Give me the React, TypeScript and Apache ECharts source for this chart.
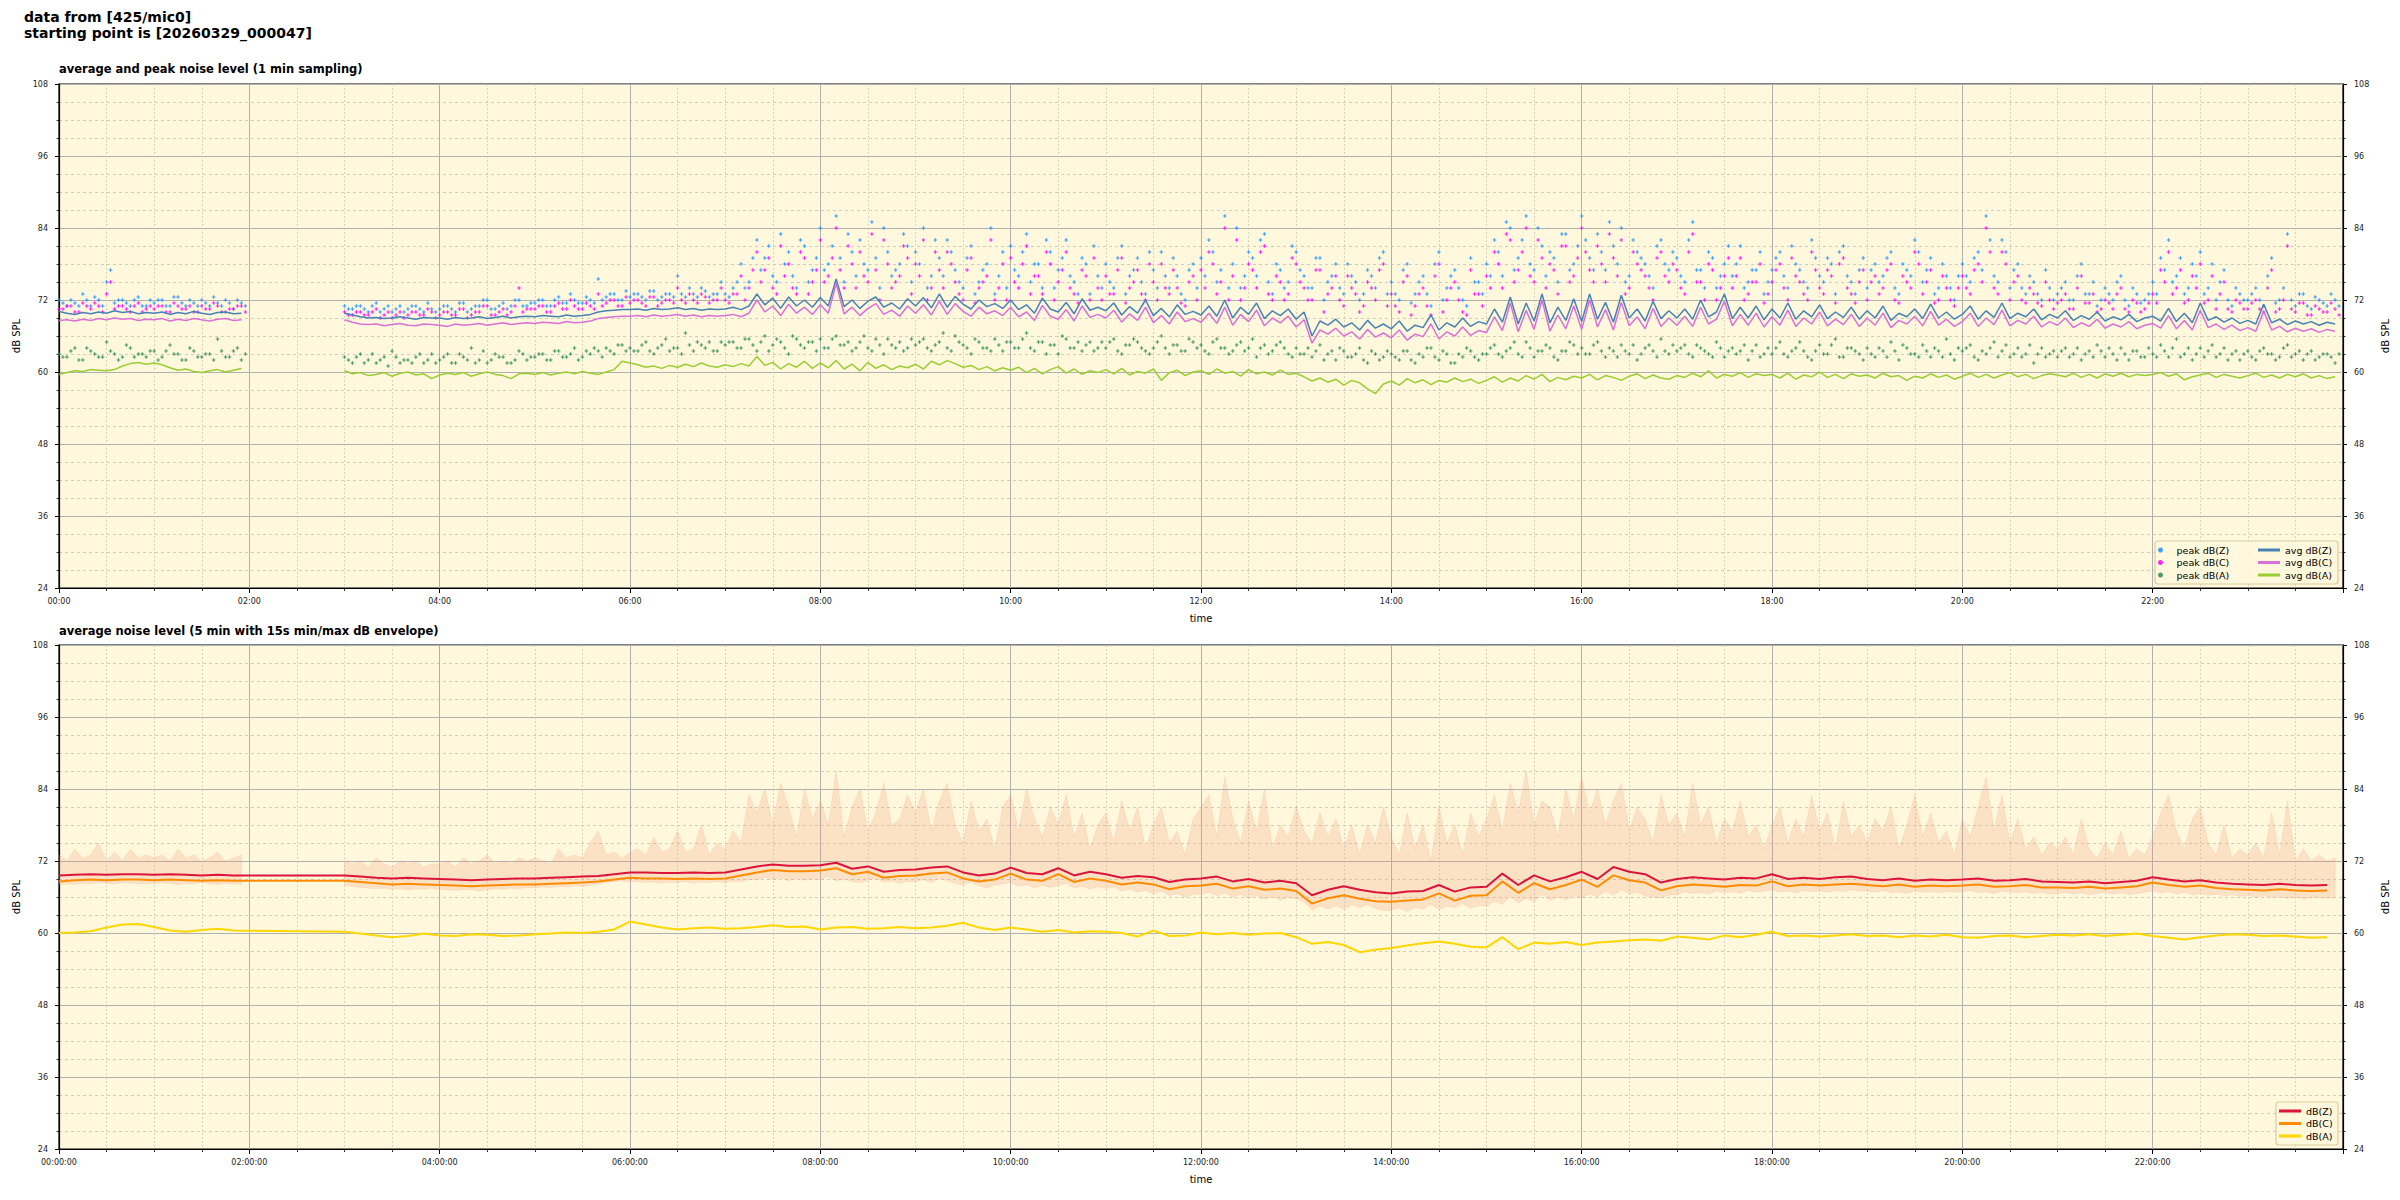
import React, { useEffect, useRef } from "react";
import * as echarts from "echarts";

// ---------- tick labels ----------
const xTickLabelsTop = ["00:00", "02:00", "04:00", "06:00", "08:00", "10:00", "12:00", "14:00", "16:00", "18:00", "20:00", "22:00"];
const xTickLabelsBottom = ["00:00:00", "02:00:00", "04:00:00", "06:00:00", "08:00:00", "10:00:00", "12:00:00", "14:00:00", "16:00:00", "18:00:00", "20:00:00", "22:00:00"];
const yTickLabels = ["24", "36", "48", "60", "72", "84", "96", "108"];

// ---------- top panel: 5-min samples (minute = index*5), null = no data ----------
const avgZ = [
  70.1, 69.8, 69.6, 69.9, 69.7, 70.0, 69.8, 70.2, 69.9, 70.1, 69.7, 69.9,
  69.8, 70.0, 69.6, 69.9, 69.7, 70.1, 69.8, 69.6, 69.9, 70.0, 69.7, 69.8,
  null, null, null, null, null, null, null, null, null, null, null, null,
  69.8, 69.5, 69.2, 69.0, 69.1, 68.9, 69.0, 69.2, 69.0, 68.8, 69.1, 69.0,
  69.0, 68.8, 69.1, 68.9, 69.0, 69.2, 68.9, 69.1, 69.3, 69.0, 69.2, 69.3,
  69.2, 69.4, 69.3, 69.2, 69.5, 69.3, 69.4, 69.6, 70.0, 70.2, 70.3, 70.4,
  70.4, 70.5, 70.3, 70.6, 70.4, 70.5, 70.7, 70.4, 70.6, 70.3, 70.5, 70.4,
  70.5, 70.8, 70.4, 71.0, 73.0, 71.2, 72.3, 70.6, 72.5, 71.0, 72.0, 70.8,
  72.4, 71.0, 75.5, 70.9, 72.0, 70.6, 71.8, 72.5, 70.8, 71.5, 70.5, 72.2,
  71.0, 72.4, 70.7, 73.0, 70.8, 72.6, 71.3, 70.5, 72.0, 70.9, 71.4, 70.6,
  72.0, 70.4, 71.2, 69.8, 72.3, 70.5, 70.0, 71.6, 69.7, 72.2, 70.3, 70.8,
  70.2, 71.5, 69.5, 70.9, 69.8, 72.0, 69.4, 70.6, 69.2, 71.2, 69.6, 70.1,
  69.5, 71.0, 69.3, 72.0, 69.0, 70.8, 69.6, 71.5, 68.9, 70.2, 69.4, 70.5,
  68.8, 70.0, 66.0, 68.5, 67.8, 68.8, 67.5, 68.2, 67.0, 68.6, 67.3, 68.0,
  67.2, 68.5, 66.8, 67.8, 67.4, 69.5, 67.0, 68.2, 67.5, 69.0, 67.6, 68.4,
  68.0, 70.5, 68.3, 72.5, 68.0, 71.5, 68.5, 73.0, 68.2, 70.8, 68.6, 72.2,
  68.4, 73.0, 68.8, 71.6, 68.3, 72.8, 69.0, 70.5, 68.5, 71.8, 68.9, 70.2,
  69.0, 70.5, 68.8, 72.0, 69.2, 70.0, 73.0, 68.9, 70.8, 69.0, 71.0, 68.7,
  70.5, 69.0, 71.5, 68.8, 70.2, 69.2, 71.2, 68.9, 70.0, 69.1, 70.8, 68.8,
  70.2, 69.0, 71.0, 68.6, 69.8, 69.2, 70.5, 68.9, 71.3, 69.0, 70.0, 68.8,
  69.6, 71.0, 68.8, 70.2, 69.1, 71.5, 68.9, 69.8, 69.2, 70.5, 68.7, 69.6,
  69.0, 70.2, 68.6, 69.4, 68.8, 70.0, 68.5, 69.2, 68.7, 69.6, 68.4, 69.0,
  69.3, 68.5, 70.6, 68.4, 69.8, 68.2, 71.5, 68.6, 69.2, 68.3, 69.0, 68.1,
  68.6, 68.0, 71.3, 68.2, 68.8, 67.9, 68.5, 68.0, 68.4, 67.8, 68.3, 68.0,
];
const avgC = [
  68.6, 68.7, 68.5, 68.8, 68.6, 68.9, 68.7, 69.0, 68.8, 68.9, 68.6, 68.8,
  68.7, 68.9, 68.5, 68.8, 68.6, 68.9, 68.7, 68.5, 68.8, 68.9, 68.6, 68.7,
  null, null, null, null, null, null, null, null, null, null, null, null,
  68.7, 68.3, 68.0, 67.9, 68.0, 67.7, 67.9, 68.1, 67.8, 67.7, 68.0, 67.9,
  67.8, 67.6, 68.0, 67.8, 67.9, 68.1, 67.8, 68.0, 68.2, 67.9, 68.1, 68.2,
  68.1, 68.3, 68.2, 68.1, 68.4, 68.2, 68.3, 68.5, 68.9, 69.1, 69.2, 69.3,
  69.3, 69.4, 69.2, 69.5, 69.3, 69.4, 69.6, 69.3, 69.5, 69.2, 69.4, 69.3,
  69.4, 69.6, 69.2, 69.8, 72.0, 70.0, 71.0, 69.4, 71.3, 69.8, 70.8, 69.6,
  71.2, 69.8, 74.8, 69.7, 70.8, 69.4, 70.6, 71.4, 69.6, 70.3, 69.3, 71.0,
  69.8, 71.2, 69.5, 71.8, 69.6, 71.4, 70.1, 69.3, 70.8, 69.7, 70.2, 69.4,
  70.8, 69.2, 70.0, 68.6, 71.1, 69.3, 68.8, 70.4, 68.5, 71.0, 69.1, 69.6,
  69.0, 70.3, 68.3, 69.7, 68.6, 70.8, 68.2, 69.4, 68.0, 70.0, 68.4, 68.9,
  68.3, 69.8, 68.1, 70.8, 67.8, 69.6, 68.4, 70.3, 67.7, 69.0, 68.2, 69.3,
  67.5, 68.7, 64.8, 67.0, 66.3, 67.3, 66.0, 66.7, 65.5, 67.1, 65.8, 66.5,
  65.7, 67.0, 65.3, 66.3, 65.9, 68.0, 65.5, 66.7, 66.0, 67.5, 66.1, 66.9,
  66.6, 69.2, 66.9, 71.5, 66.7, 70.3, 67.1, 72.0, 66.8, 69.5, 67.2, 71.0,
  67.1, 72.0, 67.5, 70.4, 67.0, 71.6, 67.7, 69.2, 67.2, 70.6, 67.6, 69.0,
  67.8, 69.3, 67.6, 70.8, 68.0, 68.8, 71.8, 67.7, 69.6, 67.8, 69.8, 67.5,
  69.2, 67.8, 70.3, 67.6, 69.0, 68.0, 70.0, 67.7, 68.8, 67.9, 69.6, 67.6,
  69.0, 67.8, 69.8, 67.4, 68.6, 68.0, 69.3, 67.7, 70.1, 67.8, 68.8, 67.6,
  68.4, 69.8, 67.6, 69.0, 67.9, 70.3, 67.7, 68.6, 68.0, 69.3, 67.5, 68.4,
  67.8, 69.0, 67.4, 68.2, 67.6, 68.8, 67.3, 68.0, 67.5, 68.4, 67.2, 67.8,
  68.1, 67.3, 69.4, 67.2, 68.6, 67.0, 70.3, 67.4, 68.0, 67.1, 67.8, 66.9,
  67.4, 66.8, 70.1, 67.0, 67.6, 66.7, 67.3, 66.8, 67.2, 66.6, 67.1, 66.8,
];
const avgA = [
  59.6, 59.9, 60.2, 60.1, 60.4, 60.3, 60.2, 60.4, 61.0, 61.4, 61.6, 61.3,
  61.5, 61.2, 60.7, 60.3, 60.5, 60.1, 59.9, 60.2, 60.4, 60.0, 60.3, 60.6,
  null, null, null, null, null, null, null, null, null, null, null, null,
  60.2, 59.7, 59.9, 59.4, 59.6, 59.9, 59.3, 59.8, 60.0, 59.5, 59.7, 58.9,
  59.5, 59.8, 59.6, 59.9, 59.3, 59.7, 60.0, 59.6, 59.4, 58.9, 59.7, 59.8,
  59.6, 59.9, 59.5, 59.8, 60.0, 59.7, 60.1, 59.8, 59.6, 60.0, 60.4, 61.8,
  61.5, 61.2, 60.8, 61.0, 60.6, 61.1, 60.8, 61.3, 60.9, 61.5, 61.0, 60.8,
  61.2, 60.9, 61.4, 61.0, 62.6, 61.1, 61.6, 60.5, 61.4, 60.8, 61.8, 60.6,
  61.5, 60.7, 61.9, 60.5, 61.3, 60.2, 61.6, 60.6, 61.2, 60.4, 61.0, 60.7,
  61.3, 60.5, 61.8, 61.2, 61.9, 61.4, 60.8, 61.1, 60.4, 60.9, 60.2, 60.7,
  60.3, 60.8, 59.9, 60.6, 59.7, 60.4, 60.9, 59.8, 60.5, 59.6, 60.2, 59.9,
  60.4, 59.7, 60.6, 59.5, 60.1, 59.8, 60.5, 58.6, 59.9, 60.3, 59.4, 60.0,
  60.2, 59.6, 60.5, 59.8, 60.1, 59.3, 60.4, 59.7, 60.0, 59.5, 60.3, 59.6,
  59.8, 59.2, 58.5, 59.0, 58.3, 58.8, 57.8, 58.6, 58.2, 57.2, 56.4, 58.0,
  58.5, 57.8, 58.9, 58.2, 58.7, 57.9, 58.6, 58.3, 59.0, 58.4, 58.8, 58.1,
  58.6, 59.2, 58.3, 59.0, 58.5, 59.4, 58.8, 59.6, 58.4, 59.1, 58.7, 59.3,
  59.0, 59.6, 58.7, 59.4, 59.1, 58.6, 59.3, 59.7, 58.9, 59.5, 59.0, 58.8,
  59.4, 59.1, 59.8, 59.2, 60.2, 59.0, 59.6, 59.3, 59.9, 59.1, 59.7, 59.4,
  59.6, 59.0, 59.8, 58.8, 59.5, 59.2, 60.0, 59.1, 59.6, 58.9, 59.7, 59.3,
  59.5, 59.0, 59.8, 59.2, 59.4, 58.6, 59.3, 59.0, 59.7, 59.1, 59.5, 58.8,
  59.3, 59.8, 59.1, 59.6, 59.0, 59.5, 59.9, 59.2, 59.6, 58.9, 59.4, 59.7,
  59.5, 59.2, 59.8, 59.1, 59.6, 59.0, 59.7, 59.3, 59.8, 59.2, 59.6, 59.4,
  59.6, 59.9, 59.3, 59.7, 58.7, 59.2, 59.5, 59.8, 59.1, 59.6, 59.3, 59.0,
  59.4, 59.8, 59.1, 59.5, 59.0, 59.6, 59.2, 59.7, 59.0, 59.4, 58.9, 59.2,
];
// peak samples on the 5-min marks
const peakZ = [
  72, 71, 71.5, 73, 71, 72, 75, 71.5, 72, 71, 72.5, 71,
  71.5, 72, 71, 72.5, 71, 71.5, 72, 71, 71.5, 72, 70.5, 71.5,
  null, null, null, null, null, null, null, null, null, null, null, null,
  71, 70.5, 71, 70, 71.5, 70.5, 70, 71, 70.5, 71, 70, 70.5,
  70.5, 71, 70, 71.5, 70.5, 71, 72, 70.5, 71.5, 71, 72, 71,
  71.5, 72, 71, 72.5, 71.5, 72, 71.5, 72, 75.5, 72.5, 73, 72,
  72.5, 73, 72, 73.5, 72.5, 73, 76, 72.5, 73, 74, 72.5, 73,
  73, 74, 78, 75, 82, 79, 76, 83, 80, 74, 81, 77,
  84, 78, 86, 75, 80, 82, 77, 79, 84, 76, 78, 81,
  80, 84, 76, 79, 82, 77, 74, 81, 75, 78, 73, 80,
  81, 76, 83, 78, 74, 80, 77, 82, 75, 79, 73, 76,
  78, 74, 81, 76, 79, 73, 77, 80, 74, 76, 72, 78,
  79, 82, 75, 86, 78, 74, 80, 76, 83, 73, 77, 75,
  80, 76, 74, 79, 75, 78, 73, 76, 72, 77, 74, 80,
  75, 72, 78, 73, 76, 71, 80, 74, 77, 72, 79, 75,
  78, 82, 76, 84, 79, 86, 77, 81, 80, 75, 83, 78,
  86, 79, 83, 77, 81, 84, 76, 80, 78, 74, 82, 77,
  79, 75, 85, 77, 80, 74, 78, 76, 81, 75, 77, 73,
  77, 80, 74, 78, 75, 82, 76, 79, 73, 81, 75, 77,
  74, 78, 76, 80, 73, 77, 82, 75, 79, 74, 76, 72,
  78, 75, 80, 86, 76, 82, 74, 78, 73, 75, 72, 74,
  73, 75, 72, 78, 73, 71, 74, 72, 76, 71, 73, 72,
  75, 79, 82, 76, 73, 78, 80, 74, 72, 77, 71, 73,
  72, 74, 71, 79, 72, 83, 71, 73, 70.5, 72, 71, 72,
];
// peak samples half-way between the 5-min marks (minute = index*5 + 2.5)
const peakZMid = [
  71.5, 72, 71, 72, 72.5, 71, 77, 72, 71.5, 72, 71, 72,
  72, 71, 72.5, 71.5, 72, 71, 71.5, 72.5, 71, 71.5, 72, 71,
  null, null, null, null, null, null, null, null, null, null, null, null,
  70.5, 71, 70.5, 71, 70, 71, 70.5, 70, 71, 70.5, 71.5, 70,
  71, 70.5, 71.5, 70, 71, 72, 70.5, 71, 70.5, 72, 71, 71.5,
  72, 71, 72, 71.5, 73, 71.5, 72.5, 71.5, 72, 73, 72, 73.5,
  73, 72.5, 73.5, 72, 73, 72.5, 73, 74, 72.5, 73.5, 73, 75,
  72.5, 75, 74, 79, 77, 81, 75, 78, 76, 82, 75, 79,
  77, 81, 79, 83, 76, 78, 85, 74, 80, 77, 83, 75,
  78, 74, 82, 76, 80, 75, 79, 73, 77, 84, 76, 74,
  77, 80, 75, 78, 82, 74, 79, 76, 73, 78, 81, 74,
  75, 79, 73, 77, 75, 80, 74, 76, 79, 73, 77, 74,
  76, 80, 77, 74, 84, 76, 79, 82, 75, 78, 74, 81,
  77, 74, 79, 72, 76, 74, 78, 75, 73, 76, 79, 73,
  73, 77, 71.5, 75, 73, 78, 72, 76, 74, 71, 75, 73,
  76, 80, 85, 77, 82, 78, 84, 76, 79, 83, 77, 81,
  82, 77, 80, 85, 78, 75, 82, 79, 76, 81, 78, 80,
  76, 82, 77, 74, 79, 76, 81, 78, 74, 77, 80, 75,
  79, 76, 81, 77, 74, 79, 75, 78, 80, 76, 73, 79,
  77, 75, 79, 74, 78, 76, 80, 77, 73, 78, 74, 76,
  76, 79, 77, 82, 75, 80, 77, 74, 76, 73, 77, 72,
  74, 72, 76, 73, 75, 72, 73, 75, 72, 74, 71.5, 73,
  73, 77, 75, 79, 74, 76, 73, 78, 75, 72, 74, 72,
  73, 72, 76, 71.5, 74, 72, 73, 71, 72.5, 71.5, 73, 71,
];
const peakC = [
  70.5, 71, 70, 71.5, 70.5, 71, 73, 70.5, 71, 70, 71.5, 70.5,
  70.5, 71, 70, 71, 70.5, 70, 71, 70.5, 71, 70, 70.5, 71,
  null, null, null, null, null, null, null, null, null, null, null, null,
  70, 69.5, 70, 69.5, 70.5, 69.5, 69, 70, 69.5, 70, 69.5, 70,
  69.5, 70, 69.5, 70.5, 69.5, 70, 71, 69.5, 70.5, 70, 74, 70.5,
  70.5, 71, 70, 71.5, 70.5, 71, 70.5, 71, 73, 71.5, 72, 71,
  71.5, 72, 71, 72.5, 71.5, 72, 74, 71.5, 72, 73, 71.5, 72,
  72, 73, 76, 74, 80, 77, 74, 81, 78, 73, 79, 75,
  82, 76, 84, 74, 78, 80, 75, 77, 82, 74, 76, 79,
  78, 82, 74, 77, 80, 75, 72, 79, 74, 76, 72, 78,
  79, 74, 81, 76, 73, 78, 75, 80, 73, 77, 72, 74,
  76, 73, 79, 74, 77, 72, 75, 78, 73, 74, 71, 76,
  77, 80, 73, 84, 76, 72, 78, 74, 81, 72, 75, 73,
  78, 74, 72, 77, 73, 76, 71, 74, 70, 75, 72, 78,
  73, 70, 76, 71, 74, 69.5, 78, 72, 75, 70, 77, 73,
  76, 80, 74, 82, 77, 84, 75, 79, 78, 73, 81, 76,
  84, 77, 81, 75, 79, 82, 74, 78, 76, 72, 80, 75,
  77, 73, 83, 75, 78, 72, 76, 74, 79, 73, 75, 71.5,
  75, 78, 72, 76, 73, 80, 74, 77, 71.5, 79, 73, 75,
  72, 76, 74, 78, 71.5, 75, 80, 73, 77, 72, 74, 71,
  76, 73, 78, 84, 74, 80, 72, 76, 71.5, 73, 71, 72,
  71.5, 73, 70.5, 76, 71.5, 70, 72, 70.5, 74, 70, 71.5, 70.5,
  73, 77, 80, 74, 71.5, 76, 78, 72, 70.5, 75, 70, 71.5,
  70.5, 72, 70, 77, 70.5, 81, 70, 71.5, 69.5, 70.5, 70, 70.5,
];
const peakCMid = [
  70.5, 71, 70, 71, 71.5, 70, 75, 71, 70.5, 71, 70, 71,
  71, 70, 71.5, 70.5, 71, 70, 70.5, 71.5, 70, 70.5, 71, 70,
  null, null, null, null, null, null, null, null, null, null, null, null,
  69.5, 70, 69.5, 70, 69, 70, 69.5, 69, 70, 69.5, 70.5, 69,
  70, 69.5, 70.5, 69, 70, 71, 69.5, 70, 69.5, 71, 70, 70.5,
  71, 70, 71, 70.5, 72, 70.5, 71.5, 70.5, 71, 72, 71, 72.5,
  72, 71.5, 72.5, 71, 72, 71.5, 72, 73, 71.5, 72.5, 72, 74,
  71.5, 73, 72, 77, 75, 79, 73, 76, 74, 80, 73, 77,
  75, 79, 77, 81, 74, 76, 83, 72, 78, 75, 81, 73,
  76, 72, 80, 74, 78, 73, 77, 71.5, 75, 82, 74, 72,
  75, 78, 73, 76, 80, 72, 77, 74, 71.5, 76, 79, 72,
  73, 77, 71.5, 75, 73, 78, 72, 74, 77, 71.5, 75, 72,
  74, 78, 75, 72, 82, 74, 77, 80, 73, 76, 72, 79,
  75, 72, 77, 70, 74, 72, 76, 73, 71, 74, 77, 71,
  71, 75, 69.5, 73, 71, 76, 70, 74, 72, 69.5, 73, 71,
  74, 78, 83, 75, 80, 76, 82, 74, 77, 81, 75, 79,
  80, 75, 78, 83, 76, 73, 80, 77, 74, 79, 76, 78,
  74, 80, 75, 72, 77, 74, 79, 76, 72, 75, 78, 73,
  77, 74, 79, 75, 72, 77, 73, 76, 78, 74, 71.5, 77,
  75, 73, 77, 72, 76, 74, 78, 75, 71.5, 76, 72, 74,
  74, 77, 75, 80, 73, 78, 75, 72, 74, 71.5, 75, 70.5,
  72, 70.5, 74, 71.5, 73, 70.5, 71.5, 73, 70.5, 72, 70, 71.5,
  71.5, 75, 73, 77, 72, 74, 71.5, 76, 73, 70.5, 72, 70.5,
  71.5, 70.5, 74, 70, 72, 70.5, 71.5, 69.5, 71, 70, 71.5, 69.5,
];
const peakA = [
  63, 62.5, 64, 62, 63.5, 62.5, 65, 63, 62.5, 64, 63, 62.5,
  63.5, 62.5, 64.5, 63, 62, 63.5, 62.5, 63, 65.5, 62.5, 63.5, 62,
  null, null, null, null, null, null, null, null, null, null, null, null,
  62.5, 61.5, 63, 62, 61.5, 62.5, 63.5, 61.5, 62, 62.5, 61.5, 63,
  62, 63, 61.5, 62.5, 64, 62, 61.5, 63, 62.5, 61.5, 63.5, 62,
  62.5, 63, 62, 63.5, 62.5, 64, 62.5, 63, 63.5, 64, 63, 64.5,
  64, 63.5, 65, 63, 64.5, 63.5, 64, 66.5, 63.5, 64.5, 65, 63.5,
  64.5, 65, 64, 65.5, 63.5, 66, 64.5, 65, 63, 65.5, 64, 65,
  65.5, 64, 66, 64.5, 63.5, 65, 64, 65.5, 63, 64.5, 65, 64,
  64.5, 65.5, 63.5, 65, 64, 66, 64.5, 63, 65, 64, 65.5, 63.5,
  65, 64, 66.5, 63.5, 65, 64.5, 63, 65.5, 64, 63.5, 65, 64,
  64, 65.5, 63, 64.5, 65, 63.5, 64, 66, 63, 64.5, 63.5, 65,
  64.5, 63, 65.5, 64, 63.5, 65, 64, 62.5, 64.5, 63.5, 65, 63,
  64, 63, 62.5, 64.5, 63, 62, 63.5, 62.5, 64, 61.5, 63, 62.5,
  63, 62, 63.5, 61.5, 62.5, 64, 62, 63, 61.5, 62.5, 63.5, 62,
  63, 64.5, 62.5, 64, 63, 65, 62.5, 63.5, 64, 62, 63.5, 64.5,
  64, 63, 65, 62.5, 63.5, 64.5, 63, 62, 64, 63.5, 65.5, 63,
  63.5, 64.5, 62.5, 64, 63, 65, 62.5, 64, 63.5, 62, 64.5, 63,
  63, 65, 62.5, 64, 63.5, 62, 64.5, 63, 65.5, 62.5, 64, 63,
  64, 62.5, 63.5, 65, 62, 64, 63, 64.5, 62.5, 63.5, 65.5, 62,
  63.5, 64.5, 62, 63, 65, 63.5, 62.5, 64, 63, 61.5, 64, 63,
  62.5, 64, 63, 62, 63.5, 64.5, 62.5, 63, 64, 62, 63.5, 62.5,
  63, 64.5, 62.5, 65.5, 63, 62, 64, 63.5, 62.5, 64, 63, 62,
  63.5, 62, 64, 63, 62.5, 64.5, 63, 62, 63.5, 62.5, 63, 61.5,
];
const peakAMid = [
  62.5, 63.5, 62, 64, 63, 62.5, 63.5, 62, 64.5, 62.5, 63, 63.5,
  62, 63.5, 63, 62, 64, 62.5, 63, 62, 63.5, 62.5, 64, 63,
  null, null, null, null, null, null, null, null, null, null, null, null,
  62, 62.5, 61.5, 63, 62, 61, 62.5, 62, 61.5, 63, 62, 61.5,
  62.5, 61.5, 63, 62, 61.5, 63.5, 62, 62.5, 61.5, 62, 63, 62.5,
  63, 62, 63.5, 62.5, 63, 62, 63.5, 64, 62.5, 63.5, 64.5, 63.5,
  63.5, 64.5, 63.5, 64, 65.5, 64, 63, 64.5, 65, 64, 63.5, 65,
  65, 64, 65.5, 64.5, 65, 63.5, 65.5, 64, 66, 64.5, 65, 63.5,
  64, 65.5, 64.5, 65, 64, 66, 63.5, 64.5, 65.5, 64, 63.5, 65.5,
  65, 64, 64.5, 66.5, 63.5, 65, 64, 65.5, 64, 63.5, 64.5, 65,
  64, 65.5, 64, 65, 63, 64.5, 66, 64, 65, 64.5, 63.5, 65,
  65, 63.5, 64.5, 65.5, 64, 63, 65, 64, 64.5, 63.5, 65.5, 64,
  63.5, 65, 64, 63, 64.5, 63.5, 65.5, 64, 63, 64.5, 64, 62.5,
  63, 64, 63.5, 62, 63.5, 64, 62.5, 63, 62, 63.5, 62, 63.5,
  62.5, 63.5, 62, 63, 64, 62.5, 63.5, 61.5, 63, 64, 62.5, 63,
  64, 63, 63.5, 65, 62.5, 64, 63.5, 64.5, 62.5, 63.5, 65, 63,
  63, 64.5, 63.5, 64, 62.5, 63.5, 64.5, 63, 64.5, 62.5, 63.5, 64.5,
  64, 63, 64.5, 63.5, 62.5, 64, 63.5, 63, 64.5, 63.5, 62.5, 64,
  64, 63, 63.5, 65, 62.5, 63.5, 63, 64.5, 62.5, 64, 63.5, 62,
  63, 64, 62.5, 63.5, 64.5, 63, 62.5, 63.5, 64, 62.5, 63, 64,
  64, 62.5, 63.5, 64, 62.5, 64.5, 63, 62.5, 64.5, 63, 62.5, 63.5,
  63.5, 62.5, 64, 63, 62.5, 63.5, 64, 62, 63, 63.5, 62.5, 64,
  62.5, 63.5, 64, 62.5, 64, 63, 62.5, 64.5, 63, 62, 63.5, 63,
  62.5, 63.5, 63, 62, 64, 62.5, 63.5, 63, 62, 63, 62.5, 63,
];

// ---------- bottom panel: 10-min averages (minute = index*10) ----------
const lvlZ = [
  69.6, 69.7, 69.8, 69.7, 69.8, 69.8, 69.7, 69.8, 69.7, 69.6, 69.7, 69.6,
  null, null, null, null, null, null,
  69.6, 69.4, 69.2, 69.1, 69.2, 69.1, 69.0, 68.9, 68.8, 68.9, 69.0, 69.1,
  69.1, 69.2, 69.3, 69.4, 69.5, 69.8, 70.1, 70.1, 70.0, 70.0, 70.1, 70.0,
  70.1, 70.6, 71.1, 71.4, 71.2, 71.2, 71.3, 71.7, 70.7, 71.1, 70.2, 70.5,
  70.6, 70.9, 71.1, 70.1, 69.6, 69.9, 70.9, 70.0, 69.8, 70.8, 69.6, 70.2,
  69.8, 69.2, 69.5, 69.3, 68.5, 68.9, 69.1, 69.4, 68.6, 69.0, 68.4, 68.7,
  68.3, 66.3, 67.2, 67.8, 67.2, 66.8, 66.6, 66.9, 67.0, 68.0, 66.9, 67.6,
  67.7, 69.9, 68.0, 69.6, 68.6, 69.3, 70.2, 69.0, 71.0, 70.2, 69.8, 68.4,
  69.0, 69.3, 69.1, 68.9, 69.2, 69.1, 69.8, 69.0, 69.2, 69.0, 69.3, 69.4,
  69.0, 68.8, 69.1, 68.7, 68.9, 68.8, 68.9, 69.1, 68.7, 68.8, 69.0, 68.6,
  68.5, 68.4, 68.6, 68.3, 68.5, 68.7, 69.3, 68.9, 68.6, 68.8, 68.4, 68.2,
  68.1, 68.0, 68.2, 68.0, 67.9, 68.0,
];
const lvlC = [
  68.6, 68.8, 68.9, 68.8, 68.9, 68.9, 68.8, 68.9, 68.8, 68.7, 68.8, 68.7,
  null, null, null, null, null, null,
  68.7, 68.5, 68.3, 68.1, 68.2, 68.1, 68.0, 67.9, 67.8, 67.9, 68.0, 68.1,
  68.1, 68.2, 68.3, 68.4, 68.6, 68.9, 69.2, 69.1, 69.1, 69.0, 69.1, 69.0,
  69.1, 69.6, 70.1, 70.5, 70.3, 70.3, 70.4, 70.8, 69.8, 70.2, 69.2, 69.5,
  69.6, 69.9, 70.1, 69.1, 68.6, 68.9, 69.9, 68.9, 68.7, 69.8, 68.5, 69.1,
  68.7, 68.1, 68.4, 68.1, 67.3, 67.8, 67.9, 68.2, 67.4, 67.8, 67.2, 67.4,
  67.0, 64.9, 65.8, 66.3, 65.7, 65.3, 65.2, 65.4, 65.6, 66.6, 65.4, 66.2,
  66.3, 68.6, 66.7, 68.3, 67.3, 68.0, 68.9, 67.7, 69.6, 68.8, 68.4, 67.1,
  67.8, 68.1, 67.9, 67.7, 68.0, 67.9, 68.6, 67.8, 68.1, 67.9, 68.1, 68.2,
  68.0, 67.8, 68.1, 67.7, 67.9, 67.8, 67.9, 68.1, 67.7, 67.8, 68.0, 67.6,
  67.6, 67.5, 67.7, 67.4, 67.6, 67.8, 68.4, 68.0, 67.7, 67.9, 67.5, 67.3,
  67.2, 67.1, 67.3, 67.1, 67.0, 67.1,
];
const lvlA = [
  60.0, 60.1, 60.3, 60.9, 61.4, 61.5, 61.0, 60.4, 60.2, 60.5, 60.7, 60.4,
  null, null, null, null, null, null,
  60.2, 59.9, 59.6, 59.3, 59.5, 59.9, 59.6, 59.5, 59.8, 59.7, 59.5, 59.6,
  59.8, 59.9, 60.1, 60.0, 60.2, 60.6, 61.9, 61.4, 60.9, 60.6, 60.8, 60.9,
  60.7, 60.8, 61.0, 61.3, 61.0, 61.1, 60.6, 60.9, 61.0, 60.7, 60.8, 61.0,
  60.8, 60.9, 61.2, 61.7, 60.9, 60.5, 60.9, 60.6, 60.2, 60.5, 60.1, 60.3,
  60.2, 60.0, 59.4, 60.4, 59.5, 59.6, 60.1, 59.8, 60.0, 59.7, 59.9, 60.0,
  59.3, 58.2, 58.5, 58.0, 56.8, 57.2, 57.5, 57.9, 58.3, 58.6, 58.2, 57.7,
  57.6, 59.3, 57.3, 58.4, 58.2, 58.5, 58.0, 58.4, 58.6, 58.8, 58.9, 58.7,
  59.4, 59.2, 58.9, 59.6, 59.3, 59.7, 60.2, 59.5, 59.6, 59.4, 59.6, 59.8,
  59.5, 59.6, 59.3, 59.6, 59.4, 59.7, 59.3, 59.2, 59.5, 59.6, 59.3, 59.5,
  59.7, 59.6, 59.8, 59.5, 59.7, 59.9, 59.5, 59.2, 58.9, 59.3, 59.6, 59.8,
  59.7, 59.5, 59.6, 59.4, 59.2, 59.3,
];
// 15 s min / max envelope, summarised per 5 min (minute = index*5)
const envMax = [
  73, 72, 74, 72.5, 73, 75, 72, 73.5, 72, 74, 72.5, 73,
  72.5, 73, 72, 74, 72.5, 73, 72, 72.5, 73.5, 72, 72.5, 73,
  null, null, null, null, null, null, null, null, null, null, null, null,
  72, 71.5, 72, 71, 72.5, 71.5, 71, 72, 71.5, 72, 71, 71.5,
  71.5, 72, 71, 72.5, 71.5, 72, 73, 71.5, 72, 71.5, 72.5, 72,
  72.5, 72, 71.5, 74, 72.5, 73, 72.5, 75, 77, 73, 73.5, 72.5,
  73.5, 74, 73, 76, 73.5, 74, 77, 73.5, 74, 78, 73, 75,
  74, 77, 75, 83, 80, 84, 78, 85, 81, 76, 84, 79,
  82, 78, 87, 76, 81, 84, 77, 80, 85, 78, 79, 83,
  80, 84, 77, 82, 85, 78, 75, 82, 77, 79, 74, 81,
  83, 77, 84, 79, 76, 81, 78, 83, 76, 80, 74, 78,
  80, 75, 82, 77, 81, 74, 78, 81, 75, 77, 73, 79,
  81, 83, 76, 86, 79, 75, 82, 77, 84, 74, 78, 76,
  81, 77, 75, 80, 76, 79, 74, 78, 73, 78, 75, 81,
  76, 73, 80, 74, 78, 72, 81, 75, 78, 73, 80, 76,
  79, 83, 77, 85, 80, 87, 78, 82, 81, 76, 84, 79,
  86, 80, 84, 78, 82, 85, 77, 81, 79, 75, 83, 78,
  80, 76, 85, 78, 81, 75, 79, 77, 82, 76, 78, 74,
  78, 81, 75, 79, 76, 83, 77, 80, 74, 82, 76, 78,
  75, 79, 77, 81, 74, 78, 83, 76, 80, 75, 77, 73,
  79, 76, 81, 86, 77, 83, 75, 79, 74, 76, 73, 75,
  74, 76, 73, 79, 74, 72.5, 75, 73, 77, 72.5, 74, 73,
  76, 80, 83, 77, 74, 79, 81, 75, 73, 78, 72.5, 74,
  73, 75, 72.5, 80, 73, 82, 72, 74, 72, 73, 72, 72.5,
];
const envMin = [
  68.0, 68.2, 68.1, 68.3, 68.2, 68.4, 68.3, 68.2, 68.4, 68.3, 68.2, 68.3,
  68.2, 68.4, 68.3, 68.1, 68.3, 68.2, 68.4, 68.2, 68.1, 68.3, 68.2, 68.1,
  null, null, null, null, null, null, null, null, null, null, null, null,
  68.0, 67.8, 67.6, 67.5, 67.4, 67.5, 67.3, 67.4, 67.2, 67.4, 67.3, 67.5,
  67.3, 67.2, 67.1, 67.3, 67.2, 67.0, 67.2, 67.4, 67.3, 67.5, 67.4, 67.6,
  67.5, 67.7, 67.6, 67.8, 67.7, 67.9, 67.8, 68.0, 68.2, 68.4, 68.6, 68.7,
  68.5, 68.6, 68.4, 68.5, 68.3, 68.5, 68.4, 68.6, 68.3, 68.5, 68.4, 68.6,
  68.4, 68.7, 68.5, 69.0, 68.8, 69.3, 68.9, 69.2, 68.7, 69.1, 68.8, 69.0,
  68.9, 69.4, 68.7, 69.0, 68.6, 68.4, 68.8, 69.1, 68.5, 68.7, 68.3, 68.6,
  68.6, 68.9, 68.4, 69.1, 68.7, 68.3, 68.0, 68.5, 67.9, 67.5, 68.0, 68.2,
  68.4, 67.8, 68.1, 67.5, 68.0, 67.6, 67.9, 68.3, 67.5, 67.8, 67.3, 67.7,
  67.4, 67.7, 67.0, 67.3, 66.8, 67.1, 66.5, 67.0, 66.2, 66.6, 66.0, 66.5,
  66.4, 66.8, 66.2, 66.7, 66.0, 66.5, 65.8, 66.3, 65.6, 66.1, 65.5, 65.9,
  65.7, 65.2, 63.8, 64.5, 64.0, 64.6, 63.9, 64.7, 64.2, 64.8, 64.1, 63.7,
  63.8, 64.2, 63.6, 64.3, 64.0, 64.8, 63.9, 64.5, 64.2, 64.9, 64.1, 64.6,
  64.5, 65.3, 64.8, 66.1, 65.0, 65.8, 65.2, 66.5, 65.4, 66.0, 65.5, 66.2,
  65.8, 66.6, 66.0, 67.0, 66.3, 67.2, 66.5, 66.8, 66.2, 66.0, 65.9, 66.3,
  66.4, 66.9, 66.6, 66.8, 66.5, 67.0, 66.7, 66.9, 66.6, 67.1, 66.8, 67.0,
  67.2, 66.8, 67.0, 66.7, 67.1, 66.9, 67.0, 66.8, 67.1, 66.9, 67.2, 67.0,
  67.0, 66.8, 67.1, 66.7, 66.9, 66.6, 67.0, 66.8, 66.9, 66.7, 66.9, 66.8,
  66.9, 67.1, 66.7, 66.9, 66.6, 67.0, 66.8, 66.7, 66.9, 66.6, 66.8, 66.5,
  66.6, 66.8, 66.5, 66.7, 66.4, 66.6, 66.8, 66.5, 66.7, 66.4, 66.6, 66.8,
  67.0, 66.7, 66.9, 66.5, 66.8, 66.4, 66.6, 66.3, 66.5, 66.2, 66.4, 66.1,
  66.3, 66.0, 66.2, 65.9, 66.1, 65.8, 66.0, 65.7, 65.9, 66.0, 65.8, 65.9,
];

// ---------- helpers ----------
const FONT = "DejaVu Sans";
const pairs = (arr: (number | null)[], step: number) => arr.map((v, i) => [i * step, v]);
const points = (arr: (number | null)[], step: number, offset: number) =>
  arr.map((v, i) => (v == null ? null : [i * step + offset, v])).filter((p) => p !== null);

// contiguous runs of envelope samples (indices), one band polygon per run
function runsOf(arr: (number | null)[]) {
  const runs: [number, number][] = [];
  let start = -1;
  arr.forEach((v, i) => {
    if (v != null && start < 0) start = i;
    if ((v == null || i === arr.length - 1) && start >= 0) {
      runs.push([start, v == null ? i - 1 : i]);
      start = -1;
    }
  });
  return runs;
}

function xAxisDef(gridIndex: number, labels: string[]) {
  return {
    type: "value",
    gridIndex,
    min: 0,
    max: 1440,
    interval: 120,
    axisLine: { show: true, onZero: false, lineStyle: { color: "#000", width: 1.2 } },
    axisTick: { show: true, length: 5, lineStyle: { color: "#000", width: 1 } },
    minorTick: { show: true, splitNumber: 4, length: 3, lineStyle: { color: "#000", width: 0.8 } },
    axisLabel: {
      fontFamily: FONT,
      fontSize: 8,
      color: "#222",
      margin: 9,
      showMaxLabel: false,
      formatter: (v: number) => labels[Math.round(v / 120)] ?? "",
    },
    splitLine: { show: true, lineStyle: { color: "#b0b0b0", width: 1 } },
    minorSplitLine: { show: true, lineStyle: { color: "#cfc8b4", width: 0.8, type: [2, 2] } },
    name: "time",
    nameLocation: "middle",
    nameGap: 25,
    nameTextStyle: { fontFamily: FONT, fontSize: 10, color: "#000" },
  };
}

function yAxisDef(gridIndex: number, position: "left" | "right") {
  const left = position === "left";
  return {
    type: "value",
    gridIndex,
    position,
    min: 24,
    max: 108,
    interval: 12,
    axisLine: { show: true, onZero: false, lineStyle: { color: "#000", width: 1.2 } },
    axisTick: { show: true, length: 4, lineStyle: { color: "#000", width: 1 } },
    minorTick: { show: true, splitNumber: 4, length: 2.5, lineStyle: { color: "#000", width: 0.8 } },
    axisLabel: {
      fontFamily: FONT,
      fontSize: 8,
      color: "#222",
      margin: 11,
      formatter: (v: number) => yTickLabels[Math.round((v - 24) / 12)] ?? "",
    },
    splitLine: { show: left, lineStyle: { color: "#b0b0b0", width: 1 } },
    minorSplitLine: { show: left, lineStyle: { color: "#c4c0b4", width: 0.8, type: [3, 3] } },
    name: "dB SPL",
    nameLocation: "middle",
    nameGap: 34,
    nameRotate: 90,
    nameTextStyle: { fontFamily: FONT, fontSize: 10, color: "#000" },
  };
}

const PLOT_BG = "#fff8dc";
const gridDef = (top: number) => ({
  left: 59,
  right: 57,
  top,
  height: 504,
  show: true,
  backgroundColor: PLOT_BG,
  borderColor: "#000",
  borderWidth: 1.2,
});

const PLUS = "path://M1,0H2V1H3V2H2V3H1V2H0V1H1Z";
const scatterSeries = (name: string, data: any[], color: string) => ({
  name,
  type: "scatter",
  xAxisIndex: 0,
  yAxisIndex: 0,
  data,
  symbol: PLUS,
  symbolSize: 3.6,
  itemStyle: { color, opacity: 0.85 },
  z: 2,
});

const lineSeries = (name: string, data: any[], color: string, width: number, xi: number, yi: number, connect: boolean) => ({
  name,
  type: "line",
  xAxisIndex: xi,
  yAxisIndex: yi,
  data,
  showSymbol: false,
  symbol: "none",
  connectNulls: connect,
  lineStyle: { color, width },
  itemStyle: { color },
  z: 3,
});

const legendText = { fontFamily: FONT, fontSize: 9.5, color: "#000" };

export default function App() {
  const ref = useRef<HTMLDivElement>(null);
  useEffect(() => {
    if (!ref.current) return;
    const chart = echarts.init(ref.current, null, { renderer: "svg" });
    const envRuns = runsOf(envMax);
    const option: any = {
      animation: false,
      backgroundColor: "#ffffff",
      title: [
        {
          text: "data from [425/mic0]\nstarting point is [20260329_000047]",
          left: 24,
          top: 9,
          padding: 0,
          textStyle: { fontFamily: FONT, fontSize: 14, fontWeight: "bold", color: "#000", lineHeight: 16 },
        },
        {
          text: "average and peak noise level (1 min sampling)",
          left: 59,
          top: 63,
          padding: 0,
          textStyle: { fontFamily: FONT, fontSize: 11.5, fontWeight: "bold", color: "#000" },
        },
        {
          text: "average noise level (5 min with 15s min/max dB envelope)",
          left: 59,
          top: 625,
          padding: 0,
          textStyle: { fontFamily: FONT, fontSize: 11.5, fontWeight: "bold", color: "#000" },
        },
      ],
      grid: [gridDef(84), gridDef(645)],
      xAxis: [xAxisDef(0, xTickLabelsTop), xAxisDef(1, xTickLabelsBottom)],
      yAxis: [yAxisDef(0, "left"), yAxisDef(0, "right"), yAxisDef(1, "left"), yAxisDef(1, "right")],
      legend: [
        {
          orient: "vertical",
          left: 2158,
          top: 545,
          padding: 0,
          itemGap: 2.5,
          itemWidth: 22,
          itemHeight: 5,
          textStyle: legendText,
          data: [
            { name: "peak dB(Z)", icon: "circle" },
            { name: "peak dB(C)", icon: "circle" },
            { name: "peak dB(A)", icon: "circle" },
          ],
        },
        {
          orient: "vertical",
          left: 2258,
          top: 545,
          padding: 0,
          itemGap: 2.5,
          itemWidth: 22,
          itemHeight: 3,
          textStyle: legendText,
          data: [
            { name: "avg dB(Z)", icon: "rect" },
            { name: "avg dB(C)", icon: "rect" },
            { name: "avg dB(A)", icon: "rect" },
          ],
        },
        {
          orient: "vertical",
          left: 2279,
          top: 1106,
          padding: 0,
          itemGap: 2.5,
          itemWidth: 22,
          itemHeight: 3,
          textStyle: legendText,
          data: [
            { name: "dB(Z)", icon: "rect" },
            { name: "dB(C)", icon: "rect" },
            { name: "dB(A)", icon: "rect" },
          ],
        },
      ],
      graphic: [
        {
          type: "rect",
          z: 3,
          shape: { x: 2155, y: 541, width: 183, height: 43, r: 3 },
          style: { fill: "rgba(255,248,220,0.85)", stroke: "#dccba0", lineWidth: 1.2 },
        },
        {
          type: "rect",
          z: 3,
          shape: { x: 2276, y: 1102, width: 62, height: 43, r: 3 },
          style: { fill: "rgba(255,248,220,0.85)", stroke: "#dccba0", lineWidth: 1.2 },
        },
      ],
      series: [
        scatterSeries("peak dB(Z)", points(peakZ, 5, 0).concat(points(peakZMid, 5, 2.5)), "#1e90ff"),
        scatterSeries("peak dB(C)", points(peakC, 5, 0).concat(points(peakCMid, 5, 2.5)), "#ff00ff"),
        scatterSeries("peak dB(A)", points(peakA, 5, 0).concat(points(peakAMid, 5, 2.5)), "#2e8b57"),
        lineSeries("avg dB(Z)", pairs(avgZ, 5), "#4682b4", 1.5, 0, 0, false),
        lineSeries("avg dB(C)", pairs(avgC, 5), "#da70d6", 1.5, 0, 0, false),
        lineSeries("avg dB(A)", pairs(avgA, 5), "#9acd32", 1.5, 0, 0, false),
        {
          name: "envelope",
          type: "custom",
          xAxisIndex: 1,
          yAxisIndex: 2,
          z: 1,
          silent: true,
          data: envRuns.map((r) => [r[0] * 5, envMin[r[0]], r[1] * 5]),
          renderItem: (params: any, api: any) => {
            const run = envRuns[params.dataIndex];
            const upper: number[][] = [];
            const lower: number[][] = [];
            for (let i = run[0]; i <= run[1]; i++) {
              upper.push(api.coord([i * 5, envMax[i]]));
              lower.push(api.coord([i * 5, envMin[i]]));
            }
            return {
              type: "polygon",
              shape: { points: upper.concat(lower.reverse()) },
              style: { fill: "rgba(242,150,120,0.22)", stroke: "rgba(242,150,120,0.3)", lineWidth: 0.6 },
            };
          },
        },
        lineSeries("dB(Z)", pairs(lvlZ, 10), "#dc143c", 2, 1, 2, true),
        lineSeries("dB(C)", pairs(lvlC, 10), "#ff8c00", 2, 1, 2, true),
        lineSeries("dB(A)", pairs(lvlA, 10), "#ffd700", 2, 1, 2, true),
      ],
    };
    chart.setOption(option);
    return () => chart.dispose();
  }, []);
  return (
    <div
      ref={ref}
      style={{ position: "fixed", left: 0, top: 0, width: 2400, height: 1200, background: "#fff" }}
    />
  );
}
